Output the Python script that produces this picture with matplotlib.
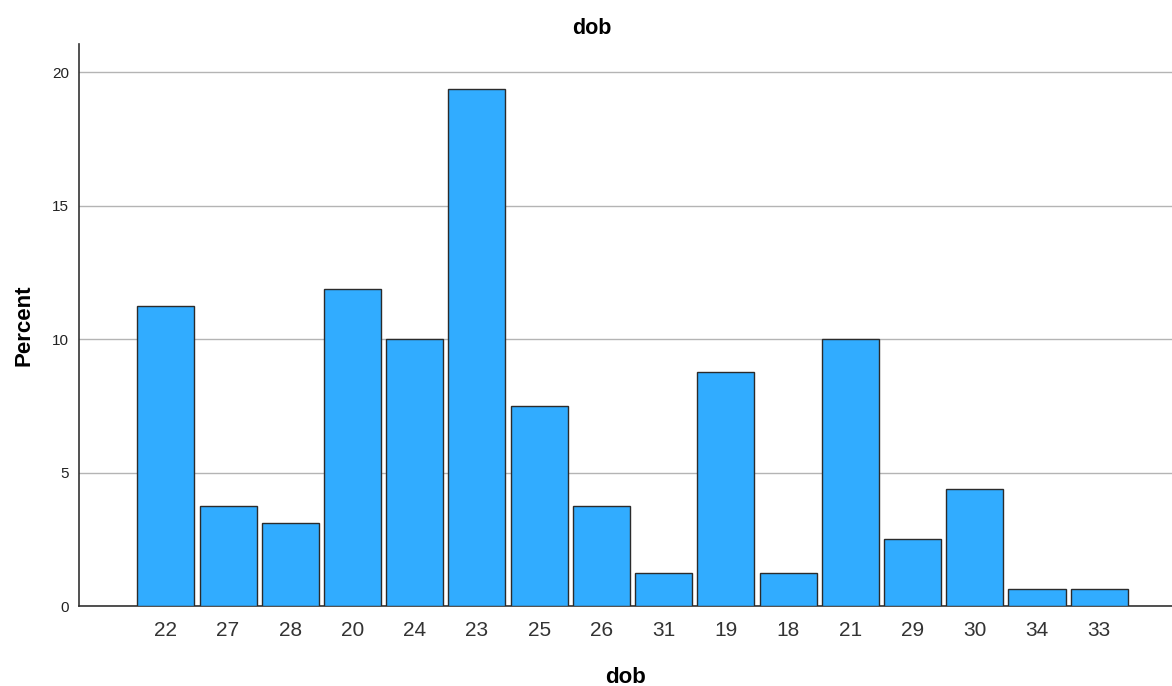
import matplotlib.pyplot as plt

plt.rcParams['font.family'] = ['Liberation Sans', 'DejaVu Sans']

# Percent of cases per dob value, in the order shown
categories = ["22", "27", "28", "20", "24", "23", "25", "26",
              "31", "19", "18", "21", "29", "30", "34", "33"]
percent = [11.25, 3.75, 3.125, 11.875, 10.0, 19.375, 7.5, 3.75,
           1.25, 8.75, 1.25, 10.0, 2.5, 4.375, 0.625, 0.625]
y_ticks = [0, 5, 10, 15, 20]

fig = plt.figure(figsize=(11.72, 6.86), dpi=100)
ax = fig.add_axes([79 / 1172, 1 - 606 / 686, 1 - 79 / 1172, (606 - 44) / 686])

x = list(range(len(categories)))
ax.bar(x, percent, width=0.917, color="#31acff", edgecolor="#2b2b2b",
       linewidth=1.0, zorder=3)

ax.set_xlim(-1.395, len(categories) - 1 + 1.17)
ax.set_ylim(0, 21.05)
ax.set_yticks(y_ticks)
ax.set_xticks(x)
ax.set_xticklabels(categories)
ax.grid(axis="y", color="#b4b4b4", linewidth=1.0, zorder=0)

for s in ["top", "right"]:
    ax.spines[s].set_visible(False)
for s in ["left", "bottom"]:
    ax.spines[s].set_color("#333333")
    ax.spines[s].set_linewidth(1.2)

ax.tick_params(axis="y", length=0, pad=7, labelsize=11, labelcolor="#222222")
ax.tick_params(axis="x", length=0, pad=11, labelsize=15, labelcolor="#333333")

ax.set_ylabel("Percent", fontsize=16, fontweight="bold", labelpad=13)
ax.set_xlabel("dob", fontsize=16, fontweight="bold", labelpad=19)
fig.text(592 / 1172, 1 - 28 / 686, "dob", ha="center", va="center",
         fontsize=15.5, fontweight="bold")

fig.savefig("out.png", dpi=100)
